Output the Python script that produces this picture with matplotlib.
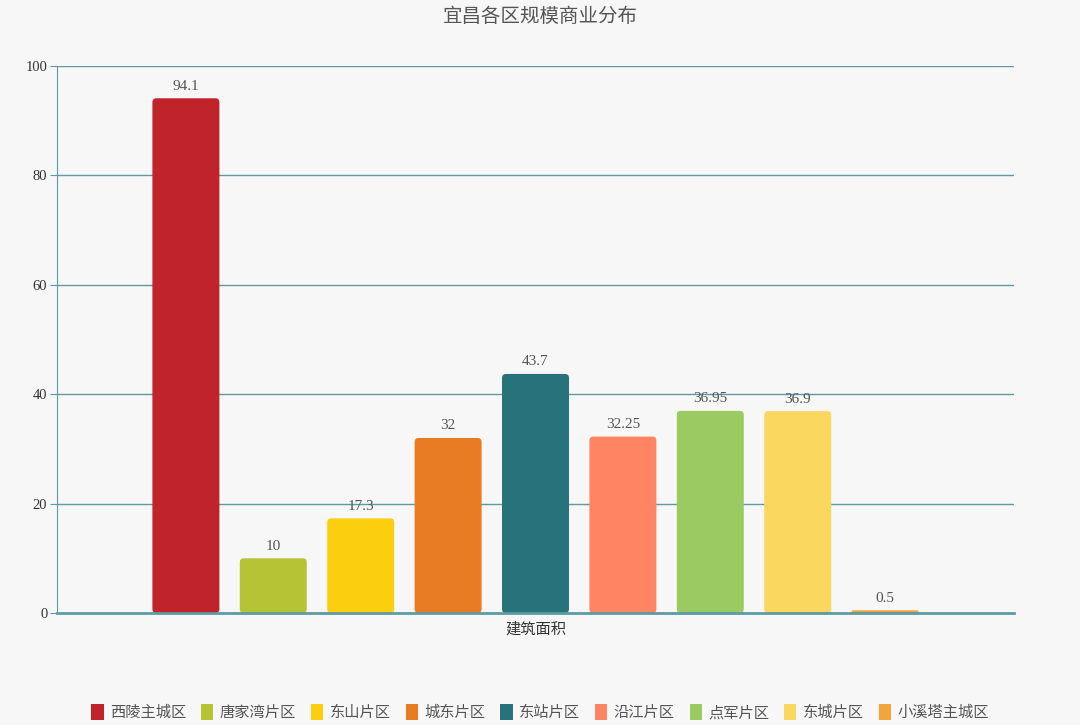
import matplotlib
matplotlib.use("Agg")
import matplotlib.pyplot as plt
from matplotlib.patches import FancyBboxPatch, Patch

plt.rcParams['font.family'] = ['Liberation Serif', 'Noto Sans CJK SC']

# data
districts = ['西陵主城区', '唐家湾片区', '东山片区', '城东片区', '东站片区',
             '沿江片区', '点军片区', '东城片区', '小溪塔主城区']
values = [94.1, 10, 17.3, 32, 43.7, 32.25, 36.95, 36.9, 0.5]
value_labels = ['94.1', '10', '17.3', '32', '43.7', '32.25', '36.95', '36.9', '0.5']
colors = ['#c1232b', '#b5c334', '#fcce10', '#e87c25', '#27727b',
          '#fe8463', '#9bca63', '#fad860', '#f3a43b']
category = '建筑面积'
yticks = [0, 20, 40, 60, 80, 100]

bg = '#f7f7f7'
axis_c = '#5c9ba3'
text_c = '#555555'

fig = plt.figure(figsize=(10.8, 7.25), dpi=100, facecolor=bg)
ax = fig.add_axes([57/1080, 112/725, 957/1080, 547/725])
ax.set_facecolor(bg)
ax.set_xlim(-0.5, 0.5)
ax.set_ylim(0, 100)

step = 87.4 / 957
width = 67 / 957
aspect = (100 / 547) / (1 / 957)   # y units per x unit in pixel terms
r = 4 / 957

for yv in yticks[1:]:
    ax.axhline(yv, color=axis_c, lw=1, zorder=1)

n = len(values)
for i, (v, c, lab) in enumerate(zip(values, colors, value_labels)):
    x = (i - (n - 1) / 2) * step
    rr = min(r, v / aspect / 2)
    p = FancyBboxPatch((x - width / 2, 0), width, v,
                       boxstyle=f"round,pad=0,rounding_size={rr}",
                       mutation_aspect=aspect, fc=c, ec='none', zorder=2)
    ax.add_patch(p)
    ax.text(x, v + 1.0, lab, ha='center', va='bottom', fontsize=11, color=text_c)

for s in ['top', 'right']:
    ax.spines[s].set_visible(False)
ax.spines['left'].set_color(axis_c)
ax.spines['bottom'].set_color(axis_c)
ax.spines['bottom'].set_linewidth(2)
ax.spines['bottom'].set_zorder(3)

ax.set_yticks(yticks)
ax.set_yticklabels([str(t) for t in yticks], fontsize=10.5, color='#333333')
ax.tick_params(axis='y', length=5, color=axis_c, pad=2)
ax.set_xticks([0])
ax.set_xticklabels([category], fontsize=11, color='#333333')
ax.tick_params(axis='x', length=0, pad=7)

fig.text(0.5, 1 - 17 / 725, '宜昌各区规模商业分布', ha='center', va='center',
         fontsize=14, color=text_c)

handles = [Patch(fc=c, ec='none') for c in colors]
leg = fig.legend(handles, districts, loc='center', bbox_to_anchor=(0.5, 1 - 712 / 725),
                 ncol=n, frameon=False, fontsize=11, handlelength=0.8, handleheight=1.3,
                 handletextpad=0.4, columnspacing=1.0, labelcolor=text_c)

fig.savefig('out.png', dpi=100, facecolor=bg)
